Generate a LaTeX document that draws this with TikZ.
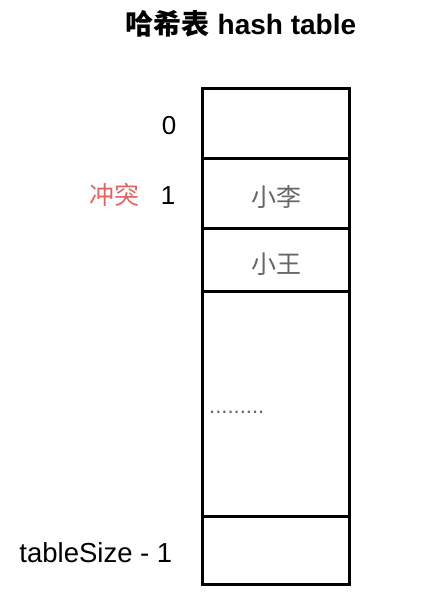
\documentclass[tikz,border=0pt]{standalone}
\usepackage{fontspec}
\setmainfont{Liberation Sans}
\newfontfamily\cjk{Noto Sans CJK SC}
\definecolor{conflict}{HTML}{E06464}
\definecolor{celltext}{HTML}{666666}
\begin{document}
\begin{tikzpicture}[x=1pt,y=-1pt,
  cell/.style={draw=black,line width=3pt,minimum width=147pt,inner sep=0pt,outer sep=0pt,anchor=north west,rectangle},
  idx/.style={anchor=base,inner sep=0pt,font=\fontsize{26}{30}\selectfont},
  cn/.style={anchor=base,inner sep=0pt,font=\fontsize{25}{30}\selectfont\cjk}]
\useasboundingbox (0,0) rectangle (440,597);
\node[anchor=base,inner sep=0pt,font=\fontsize{28}{32}\selectfont\bfseries] (title) at (241,34.5) {{\cjk 哈希表} hash table};
\node[cell,minimum height=70pt] (c0) at (202.5,88) {};
\node[cell,minimum height=70pt] (c1) at (202.5,158) {};
\node[cell,minimum height=63pt] (c2) at (202.5,228) {};
\node[cell,minimum height=225pt] (c3) at (202.5,291) {};
\node[cell,minimum height=68pt] (c4) at (202.5,516) {};
\node[idx] (i0) at (169,134) {0};
\node[idx] (i1) at (168,204) {1};
\node[cn,text=conflict] (ct) at (114.5,204) {冲突};
\node[cn,text=celltext] (v1) at (276,206) {小李};
\node[cn,text=celltext] (v2) at (276,273) {小王};
\node[anchor=base west,inner sep=0pt,text=celltext,font=\fontsize{22}{24}\selectfont] (dots) at (209,413) {.........};
\node[idx,anchor=base east,font=\fontsize{27.5}{30}\selectfont] (ilast) at (172.5,562) {tableSize - 1};
\end{tikzpicture}
\end{document}
